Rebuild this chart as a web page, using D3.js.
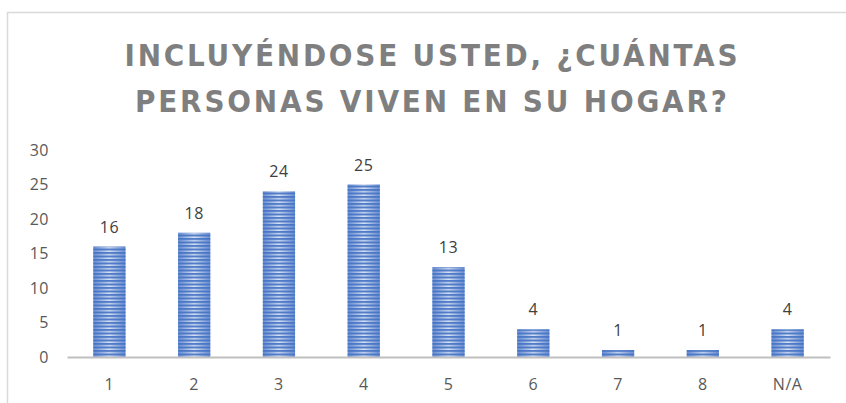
<!DOCTYPE html>
<html>
<head>
<meta charset="utf-8">
<script src="https://cdn.jsdelivr.net/npm/d3@7"></script>
<style>
  body { margin: 0; background: #fff; }
  svg { display: block; }
</style>
</head>
<body>
<svg id="canvas" width="846" height="403"></svg>
<script>
'use strict';

var categories = ['1', '2', '3', '4', '5', '6', '7', '8', 'N/A'];
var counts = [16, 18, 24, 25, 13, 4, 1, 1, 4];
var yTicks = [0, 5, 10, 15, 20, 25, 30];
var titleLines = ['INCLUYÉNDOSE USTED, ¿CUÁNTAS', 'PERSONAS VIVEN EN SU HOGAR?'];

var BLUE = '#4472C4';

function RenderChart() {
  var svg = d3.select('#canvas');
  var defs = svg.append('defs');

  // soft light band through the middle of each bar
  var grad = defs.append('linearGradient')
      .attr('id', 'barShade')
      .attr('x1', 0).attr('x2', 1).attr('y1', 0).attr('y2', 0);
  grad.append('stop').attr('offset', '0%').attr('stop-color', '#6C8FD2');
  grad.append('stop').attr('offset', '50%').attr('stop-color', '#D8E2F4');
  grad.append('stop').attr('offset', '100%').attr('stop-color', '#6C8FD2');

  // horizontal dark stripes
  var stripes = defs.append('pattern')
      .attr('id', 'barStripes')
      .attr('patternUnits', 'userSpaceOnUse')
      .attr('width', 10)
      .attr('height', 3.5)
      .attr('y', 357);
  stripes.append('rect')
      .attr('width', 10)
      .attr('height', 2)
      .attr('fill', BLUE)
      .attr('opacity', 0.9);

  // chart frame (cropped on the right and bottom)
  svg.append('rect')
      .attr('x', 7.5).attr('y', 12.5)
      .attr('width', 900).attr('height', 500)
      .attr('fill', 'none')
      .attr('stroke', '#D9D9D9')
      .attr('stroke-width', 1.5);

  svg.append('g')
      .selectAll('text')
      .data(titleLines)
    .enter().append('text')
      .attr('x', 431)
      .attr('y', function(d, i) { return 66 + i * 46; })
      .attr('text-anchor', 'middle')
      .attr('font-family', '"DejaVu Sans Condensed", "Liberation Sans Narrow", sans-serif')
      .attr('font-stretch', 'condensed')
      .attr('font-weight', 'bold')
      .attr('font-size', 31)
      .attr('fill', '#7F7F7F')
      .attr('textLength', function(d, i) { return i === 0 ? 613 : 592; })
      .attr('lengthAdjust', 'spacing')
      .text(function(d) { return d; });

  var x = d3.scaleBand()
      .domain(categories)
      .range([67, 830])
      .paddingInner(0.62)
      .paddingOuter(0.31);

  var y = d3.scaleLinear()
      .domain([0, 30])
      .range([357, 150]);

  var yAxis = svg.append('g')
      .attr('transform', 'translate(49,0)')
      .call(d3.axisLeft(y).tickValues(yTicks).tickSize(0).tickPadding(0));
  yAxis.select('.domain').remove();
  yAxis.selectAll('text')
      .attr('font-family', '"Open Sans", sans-serif')
      .attr('font-size', 16)
      .attr('letter-spacing', 0.5)
      .attr('fill', '#595959');

  var bars = svg.append('g')
      .selectAll('g')
      .data(counts)
    .enter().append('g');

  bars.append('rect')
      .attr('x', function(d, i) { return x(categories[i]); })
      .attr('y', function(d) { return y(d); })
      .attr('width', x.bandwidth())
      .attr('height', function(d) { return y(0) - y(d); })
      .attr('fill', 'url(#barShade)');
  bars.append('rect')
      .attr('x', function(d, i) { return x(categories[i]); })
      .attr('y', function(d) { return y(d); })
      .attr('width', x.bandwidth())
      .attr('height', function(d) { return y(0) - y(d); })
      .attr('fill', 'url(#barStripes)');

  bars.append('text')
      .attr('x', function(d, i) { return x(categories[i]) + x.bandwidth() / 2; })
      .attr('y', function(d) { return y(d) - 14; })
      .attr('text-anchor', 'middle')
      .attr('font-family', '"Open Sans", sans-serif')
      .attr('font-size', 16)
      .attr('letter-spacing', 0.5)
      .attr('fill', '#404040')
      .text(function(d) { return d; });

  var xAxis = svg.append('g')
      .attr('transform', 'translate(0,357)')
      .call(d3.axisBottom(x).tickSize(0).tickPadding(22));
  xAxis.select('.domain')
      .attr('stroke', '#BFBFBF')
      .attr('stroke-width', 2);
  xAxis.selectAll('text')
      .attr('font-family', '"Open Sans", sans-serif')
      .attr('font-size', 16)
      .attr('letter-spacing', 0.5)
      .attr('fill', '#595959');
}

RenderChart();
</script>
</body>
</html>
